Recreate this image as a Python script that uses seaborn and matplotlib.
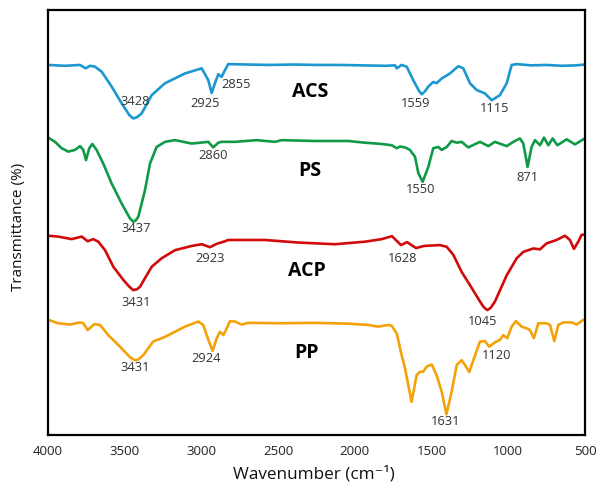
import matplotlib
matplotlib.use("Agg")
import matplotlib.pyplot as plt
import seaborn as sns
import pandas as pd

# FTIR spectra (wavenumber in cm-1, transmittance offset per sample)
acs_wn = [4000, 3889, 3791, 3754, 3726, 3694, 3650, 3585, 3520, 3470, 3444, 3420,
          3389, 3324, 3237, 3107, 2998, 2955, 2933, 2912, 2890, 2868,
          2846, 2825, 2700, 2550, 2400, 2250, 2100, 1950, 1800, 1738,
          1727, 1695, 1662, 1619, 1580, 1564, 1545, 1521, 1489, 1467, 1434, 1380,
          1326, 1293, 1250, 1206, 1152, 1108, 1054, 1010, 978, 945,
          850, 750, 650, 560, 500]
acs_t = [87.1, 86.9, 87.1, 86.3, 86.9, 86.7, 85.5, 82.0, 78.1, 75.3, 74.5, 74.8,
         75.7, 80.0, 82.8, 85.1, 86.3, 83.5, 80.5, 82.8, 84.9, 84.3,
         85.9, 87.3, 87.2, 87.1, 87.2, 87.1, 87.1, 87.0, 86.9, 87.0,
         86.3, 87.1, 86.7, 83.5, 80.9, 80.2, 80.8, 82.0, 83.1, 82.8, 83.9, 85.1,
         86.8, 86.3, 82.8, 81.2, 80.4, 78.8, 80.0, 82.8, 87.1, 87.3,
         87.0, 87.1, 86.9, 87.0, 87.2]

ps_wn = [3998, 3954, 3911, 3868, 3824, 3791, 3770, 3752, 3731, 3711,
         3683, 3640, 3585, 3520, 3466, 3444, 3428, 3411, 3368, 3335, 3292,
         3237, 3172, 3063, 2955, 2923, 2890, 2868, 2781, 2640, 2521,
         2477, 2260, 2043, 1934, 1825, 1760, 1727, 1706, 1673, 1641,
         1608, 1586, 1558, 1521, 1489, 1456, 1434, 1401, 1369, 1336,
         1304, 1261, 1184, 1130, 1087, 1010, 967, 924, 902, 874,
         848, 826, 793, 767, 739, 711, 680, 619, 565, 511, 500]
ps_t = [70.0, 69.0, 67.5, 66.7, 67.1, 68.0, 67.1, 64.7, 67.5, 68.5,
        67.1, 63.9, 59.2, 54.5, 51.0, 50.2, 50.5, 51.4, 57.6, 63.9, 67.8,
        69.0, 69.4, 68.6, 69.0, 67.7, 68.8, 69.0, 69.0, 69.4, 69.0,
        69.4, 69.2, 69.2, 68.8, 68.5, 68.2, 67.5, 67.9, 67.7, 67.1,
        65.5, 61.6, 59.6, 63.1, 67.5, 67.8, 67.1, 67.8, 69.2, 68.8,
        69.0, 67.7, 69.0, 68.0, 69.0, 68.0, 69.0, 69.8, 68.6, 63.1,
        67.8, 69.4, 68.2, 70.0, 68.2, 69.8, 68.2, 69.6, 68.4, 69.6, 69.8]

acp_wn = [3998, 3933, 3846, 3780, 3741, 3705, 3672, 3628, 3574, 3509, 3470,
          3444, 3420, 3400, 3368, 3324, 3259, 3172, 3063, 2998, 2944, 2900,
          2846, 2825, 2586, 2369, 2129, 1934, 1825, 1758, 1699, 1660,
          1601, 1549, 1445, 1401, 1358, 1304, 1250, 1184, 1160, 1137, 1115, 1087,
          1010, 945, 902, 837, 793, 750, 685, 630, 598, 572,
          544, 522, 500]
acp_t = [46.9, 46.7, 46.1, 46.7, 45.6, 46.1, 45.5, 43.5, 39.6, 36.5, 34.9,
         34.1, 34.3, 34.9, 36.9, 39.6, 41.6, 43.5, 44.5, 44.9, 44.2, 45.0,
         45.6, 45.9, 45.9, 45.3, 44.9, 45.5, 46.1, 46.8, 44.7, 45.4,
         44.0, 44.5, 44.7, 44.3, 42.4, 38.4, 35.3, 31.4, 30.1, 29.4, 29.9, 31.4,
         37.6, 41.6, 43.1, 43.9, 43.7, 45.1, 45.9, 46.9, 45.9, 43.8,
         45.5, 47.1, 47.2]

pp_wn = [3998, 3933, 3857, 3791, 3770, 3741, 3698, 3661, 3607, 3531, 3465,
         3433, 3410, 3379, 3314, 3237, 3107, 3020, 2988, 2955, 2927, 2900,
         2879, 2857, 2835, 2814, 2781, 2738, 2694, 2477, 2260, 2043,
         1912, 1847, 1782, 1760, 1727, 1695, 1673, 1630, 1597, 1575,
         1554, 1532, 1499, 1467, 1434, 1403, 1369, 1336, 1304, 1283,
         1254, 1224, 1184, 1152, 1124, 1087, 1054, 1033, 1006, 978,
         950, 913, 880, 859, 833, 804, 750, 728, 700, 674,
         641, 587, 554, 511, 500]
pp_t = [27.1, 26.3, 26.0, 26.5, 26.3, 24.7, 26.1, 25.9, 23.5, 20.8, 18.3,
        17.6, 17.8, 18.8, 22.0, 23.1, 25.5, 26.7, 25.9, 22.4, 19.8, 22.8,
        24.3, 23.5, 25.1, 26.8, 26.7, 26.0, 26.4, 26.3, 26.4, 26.2,
        25.9, 25.5, 25.9, 25.7, 23.9, 18.8, 15.7, 7.8, 14.1, 14.9,
        14.9, 16.1, 16.6, 14.1, 10.2, 4.9, 10.2, 16.5, 17.6, 16.5,
        14.8, 18.0, 22.0, 22.1, 20.8, 21.8, 22.4, 23.5, 22.8, 25.5,
        26.8, 25.5, 25.1, 24.7, 22.8, 26.3, 26.3, 25.9, 22.1, 25.9,
        26.5, 26.5, 26.0, 27.1, 27.2]

samples = ["ACS", "PS", "ACP", "PP"]
colors = ["#1C97D0", "#109A48", "#D10A0A", "#F4A20A"]

# sample names drawn beside each trace
name_wn = [2292, 2292, 2312, 2312]
name_t = [80.7, 62.1, 38.6, 19.3]

# peak annotations
peak_text = ["3428", "2925", "2855", "1559", "1115",
             "3437", "2860", "1550", "871",
             "3431", "2923", "1628", "1045",
             "3431", "2924", "1631", "1120"]
peak_wn = [3433, 2977, 2775, 1602, 1087,
           3426, 2925, 1569, 878,
           3426, 2944, 1686, 1165,
           3433, 2970, 1406, 1074]
peak_t = [78.6, 78.1, 82.6, 78.1, 76.9,
          48.5, 65.9, 57.9, 60.7,
          31.3, 41.6, 41.6, 26.6,
          15.8, 17.9, 3.1, 18.6]

x_ticks = [4000, 3500, 3000, 2500, 2000, 1500, 1000, 500]

frames = []
for name, wn, t in zip(samples, [acs_wn, ps_wn, acp_wn, pp_wn],
                       [acs_t, ps_t, acp_t, pp_t]):
    frames.append(pd.DataFrame({"wavenumber": wn, "T": t, "sample": name}))
df = pd.concat(frames, ignore_index=True)

sns.set_theme(style="white")
plt.rcParams["font.family"] = ["Open Sans", "DejaVu Sans"]

fig = plt.figure(figsize=(5.96, 4.83), dpi=100)
ax = fig.add_axes([0.0805, 0.0994, 0.901, 0.8796])

sns.lineplot(data=df, x="wavenumber", y="T", hue="sample",
             hue_order=samples, palette=colors, linewidth=1.9,
             legend=False, ax=ax, estimator=None,
             solid_joinstyle="round", solid_capstyle="round")

ax.set_xlim(4000, 500)
ax.set_ylim(0, 100)
ax.set_xticks(x_ticks)
ax.set_xticklabels([str(v) for v in x_ticks], fontsize=9.5, color="#222222")
ax.set_yticks([])
ax.tick_params(axis="x", length=0, pad=7)

for s in ax.spines.values():
    s.set_color("black")
    s.set_linewidth(1.6)

ax.set_xlabel("Wavenumber (cm\u207b\u00b9)", fontsize=12.3, color="#111111")
ax.xaxis.set_label_coords(0.495, -0.072)
ax.set_ylabel("Transmittance (%)", fontsize=11, color="#111111")
ax.yaxis.set_label_coords(-0.04, 0.49)

for name, x, y in zip(samples, name_wn, name_t):
    ax.text(x, y, name, fontsize=14, fontweight="bold", color="black",
            ha="center", va="center")

for txt, x, y in zip(peak_text, peak_wn, peak_t):
    ax.text(x, y, txt, fontsize=9.3, color="#333333", ha="center", va="center")

fig.savefig("out.png", dpi=100)
